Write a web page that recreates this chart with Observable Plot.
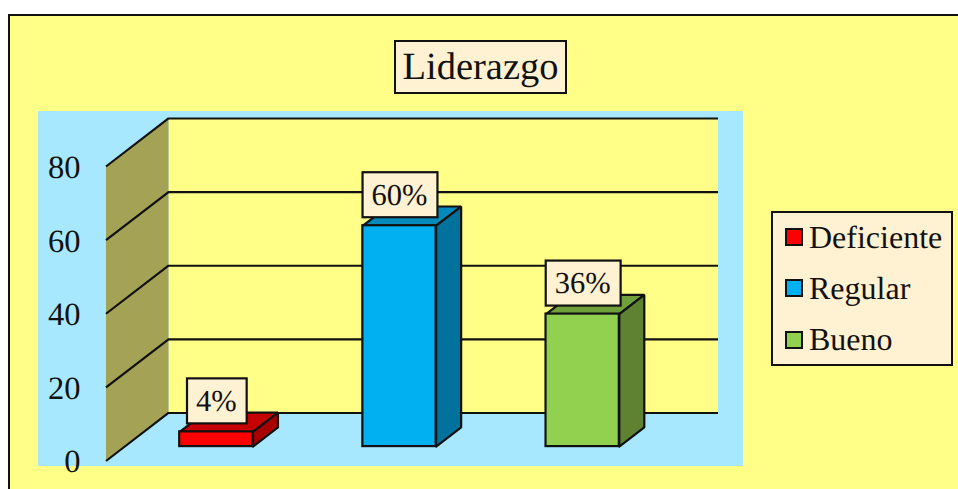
<!DOCTYPE html>
<html>
<head>
<meta charset="utf-8">
<script src="https://cdn.jsdelivr.net/npm/d3@7"></script>
<script src="https://cdn.jsdelivr.net/npm/@observablehq/plot@0.6"></script>
<style>
  html, body { margin: 0; padding: 0; background: #fff; width: 958px; height: 489px; overflow: hidden; }
  body { position: relative; font-family: "Liberation Serif", serif; color: #111; text-rendering: geometricPrecision; }
  #panel { position: absolute; left: 8px; top: 14px; width: 960px; height: 490px; box-sizing: border-box; background: #FFFF88; border: 2px solid #111; }
  #plotbg { position: absolute; left: 38px; top: 111px; width: 705px; height: 355px; background: #A8E8FF; }
  #chart { position: absolute; left: 0; top: 0; }
  #title { position: absolute; left: 394px; top: 40px; width: 173px; height: 54px; box-sizing: border-box; background: #FFF2D2; border: 2px solid #111; font-size: 38.5px; display: flex; align-items: center; justify-content: center; }
  #legend { position: absolute; left: 771px; top: 211px; width: 182px; height: 155px; box-sizing: border-box; background: #FFF2D2; border: 2px solid #111; font-size: 32px; }
  #legend .row { position: absolute; left: 12px; height: 51px; display: flex; align-items: center; white-space: nowrap; }
  #legend .sw { width: 18px; height: 18px; box-sizing: border-box; border: 2px solid #111; margin-right: 6px; }
</style>
</head>
<body>
<div id="panel"></div>
<div id="plotbg"></div>
<div id="chart"></div>
<div id="title"></div>
<div id="legend"></div>
<script>
const chartTitle = "Liderazgo";
const categories = ["Deficiente", "Regular", "Bueno"];
const values = [4, 60, 36];
const valueLabels = ["4%", "60%", "36%"];
const yTicks = [0, 20, 40, 60, 80];
const frontColors = ["#FF0000", "#00B0F0", "#92D050"];
const sideColors = ["#A80000", "#00729C", "#5E8232"];
const topColors = ["#C60000", "#0089BB", "#6FA03C"];
const wallColor = "#FFFF88";
const sideWallColor = "#A3A255";
const ink = "#111";

// 3D projection expressed in scale units
const depthX = 0.3412, depthV = 13.04;
const at = (cat, v, depth) => ({x: cat + depth * depthX, y: v + depth * depthV});
const barHalf = 0.2, barFront = 0.30, barBack = 0.70;
const xStart = -0.5, xEnd = 2.5, yTop = yTicks[yTicks.length - 1];
const pxPerUnitX = 183.17, pxPerUnitV = 3.681;

const marks = [];
// back wall
marks.push(Plot.line(
  [at(xStart,0,1), at(xEnd,0,1), at(xEnd,yTop,1), at(xStart,yTop,1), at(xStart,0,1)],
  {x: "x", y: "y", fill: wallColor, stroke: "none"}));
// side wall
marks.push(Plot.line(
  [at(xStart,0,0), at(xStart,0,1), at(xStart,yTop,1), at(xStart,yTop,0), at(xStart,0,0)],
  {x: "x", y: "y", fill: sideWallColor, stroke: "none"}));
// gridlines
for (const t of yTicks) {
  marks.push(Plot.line([at(xStart,t,0), at(xStart,t,1), at(xEnd,t,1)],
    {x: "x", y: "y", stroke: ink, strokeWidth: 2.2, strokeLinecap: "butt"}));
}
// tick labels
marks.push(Plot.text(yTicks, {
  x: () => xStart, y: d => d, text: d => String(d),
  textAnchor: "end", dx: -25.5, dy: 1, fontSize: 32.5, fontFamily: "Liberation Serif", fill: ink
}));
// bars
const face = {strokeWidth: 2.2, strokeLinejoin: "miter", stroke: ink};
categories.forEach((c, i) => {
  const x1 = i - barHalf, x2 = i + barHalf, v = values[i];
  marks.push(Plot.line(
    [at(x1,v,barFront), at(x2,v,barFront), at(x2,v,barBack), at(x1,v,barBack), at(x1,v,barFront)],
    {x: "x", y: "y", fill: topColors[i], ...face}));
  marks.push(Plot.line(
    [at(x2,0,barFront), at(x2,0,barBack), at(x2,v,barBack), at(x2,v,barFront), at(x2,0,barFront)],
    {x: "x", y: "y", fill: sideColors[i], ...face}));
  const a = at(x1,0,barFront), b = at(x2,v,barFront);
  marks.push(Plot.rect([{}], {x1: a.x, x2: b.x, y1: a.y, y2: b.y, fill: frontColors[i], ...face}));
});
// value labels
const labelSize = 30.5, labelGapPx = 30.5, labelHalfHeightPx = 22.5;
const labelRows = valueLabels.map((t, i) => {
  const front = at(i, values[i], barFront);
  const widthPx = (0.833 + 0.5 * (t.length - 1)) * labelSize + 19;
  const halfX = widthPx / 2 / pxPerUnitX;
  const cy = front.y + labelGapPx / pxPerUnitV;
  const halfY = labelHalfHeightPx / pxPerUnitV;
  return {t, x: front.x, y: cy, x1: front.x - halfX, x2: front.x + halfX, y1: cy - halfY, y2: cy + halfY};
});
marks.push(Plot.rect(labelRows, {x1: "x1", x2: "x2", y1: "y1", y2: "y2", dx: 1, fill: "#FFF2D2", stroke: ink, strokeWidth: 2.2}));
marks.push(Plot.text(labelRows, {x: "x", y: "y", text: "t", fontSize: labelSize, fontFamily: "Liberation Serif", fill: ink}));

const plot = Plot.plot({
  width: 958, height: 489,
  marginTop: 0, marginRight: 0, marginBottom: 0, marginLeft: 0,
  style: {background: "transparent", overflow: "visible"},
  x: {domain: [-0.5, 2.5], range: [105.5, 655], axis: null},
  y: {domain: [0, 80], range: [460.5, 166], axis: null},
  marks
});
document.getElementById("chart").appendChild(plot);

document.getElementById("title").textContent = chartTitle;
const legend = document.getElementById("legend");
categories.forEach((c, i) => {
  const row = document.createElement("div");
  row.className = "row";
  row.style.top = (-1.5 + i * 51.3) + "px";
  const sw = document.createElement("span");
  sw.className = "sw";
  sw.style.background = frontColors[i];
  row.appendChild(sw);
  row.appendChild(document.createTextNode(c));
  legend.appendChild(row);
});
</script>
</body>
</html>
